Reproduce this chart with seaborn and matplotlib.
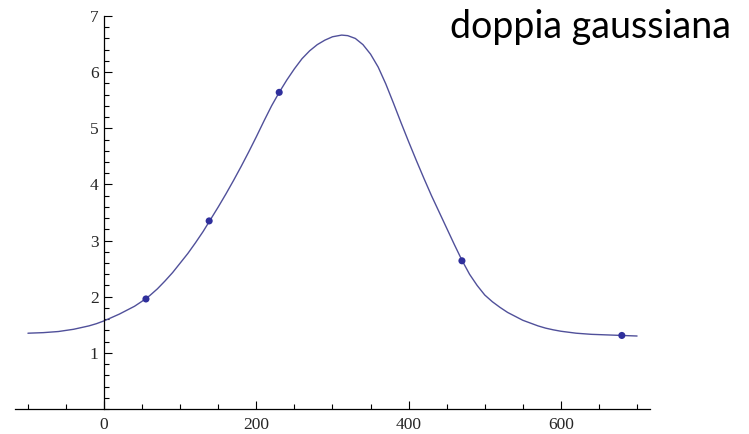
import numpy as np
import pandas as pd
import matplotlib
matplotlib.use("Agg")
import matplotlib.pyplot as plt
from matplotlib.ticker import MultipleLocator, FixedLocator
import seaborn as sns

# fitted curve
curve_x = [-100, -80, -60, -40, -20, -10, 0, 10, 20, 30, 40, 50, 60, 70, 80,
           90, 100, 110, 120, 130, 140, 150, 160, 170, 180, 190, 200, 210,
           220, 230, 240, 250, 260, 270, 280, 290, 300, 312, 320, 330, 340,
           350, 360, 370, 380, 390, 400, 410, 420, 430, 440, 450, 460, 470,
           480, 490, 500, 510, 520, 530, 540, 550, 560, 570, 580, 590, 600,
           620, 640, 660, 680, 700]
curve_y = [1.35, 1.36, 1.38, 1.42, 1.48, 1.52, 1.57, 1.63, 1.69, 1.76, 1.83,
           1.92, 2.02, 2.14, 2.28, 2.43, 2.60, 2.77, 2.96, 3.16, 3.38, 3.60,
           3.83, 4.07, 4.32, 4.58, 4.85, 5.13, 5.40, 5.64, 5.86, 6.06, 6.24,
           6.38, 6.49, 6.57, 6.63, 6.66, 6.65, 6.60, 6.49, 6.32, 6.09, 5.79,
           5.45, 5.10, 4.76, 4.43, 4.11, 3.80, 3.51, 3.22, 2.93, 2.65, 2.40,
           2.20, 2.03, 1.91, 1.81, 1.72, 1.65, 1.58, 1.53, 1.48, 1.44, 1.41,
           1.385, 1.35, 1.33, 1.32, 1.31, 1.30]

# measured points
pts_x = [55, 138, 230, 470, 680]
pts_y = [1.96, 3.35, 5.64, 2.64, 1.31]

x_ticks = [0, 200, 400, 600]
y_ticks = [1, 2, 3, 4, 5, 6, 7]
title = "doppia gaussiana"

sns.set_style("white")
plt.rcParams['font.family'] = ['Liberation Serif', 'DejaVu Serif']

fig = plt.figure(figsize=(7.49, 4.34), dpi=100)
ax = fig.add_axes([15/749, 25/434, 635/749, 393/434])

curve = pd.DataFrame({"x": curve_x, "y": curve_y})
pts = pd.DataFrame({"x": pts_x, "y": pts_y})

sns.lineplot(data=curve, x="x", y="y", ax=ax, color="#50509a", lw=1.0,
             sort=False, estimator=None)
sns.scatterplot(data=pts, x="x", y="y", ax=ax, color="#2f2f9c", s=26,
                edgecolor="none", zorder=5)

ax.set_xlim(-117, 717)
ax.set_ylim(0, 7)
ax.set_xlabel("")
ax.set_ylabel("")

ax.spines['left'].set_position(('data', 0))
ax.spines['top'].set_visible(False)
ax.spines['right'].set_visible(False)
for s in ['left', 'bottom']:
    ax.spines[s].set_color('black')
    ax.spines[s].set_linewidth(0.9)

ax.xaxis.set_major_locator(FixedLocator(x_ticks))
ax.xaxis.set_minor_locator(MultipleLocator(50))
ax.yaxis.set_major_locator(FixedLocator(y_ticks))
ax.yaxis.set_minor_locator(MultipleLocator(0.2))
ax.set_xticklabels([str(v) for v in x_ticks])
ax.set_yticklabels([str(v) for v in y_ticks])

ax.tick_params(axis='both', which='both', direction='in', color='black',
               width=0.8, labelsize=12.5)
ax.tick_params(axis='both', which='major', length=6)
ax.tick_params(axis='both', which='minor', length=3.5)
ax.tick_params(axis='x', which='major', pad=6)
ax.tick_params(axis='y', which='major', pad=4)
ax.tick_params(bottom=True, left=True, which='both')

fig.text(450/749, 1 - 38/434, title, fontsize=27, family=['Lato', 'DejaVu Sans'],
         ha='left', va='baseline', color='black')

fig.savefig("out.png", dpi=100, facecolor='white')
